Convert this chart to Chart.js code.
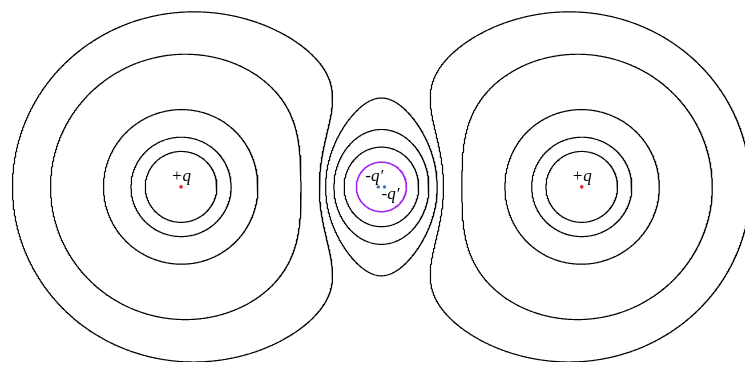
<!DOCTYPE html>
<html>
<head>
<meta charset="utf-8">
<script src="https://cdn.jsdelivr.net/npm/chart.js@4.4.1/dist/chart.umd.min.js"></script>
<style>
  html, body { margin: 0; padding: 0; background: #ffffff; }
  canvas { display: block; }
</style>
</head>
<body>
<canvas id="field" width="749" height="366"></canvas>
<script>
// Point charges: two +q charges and their images -q' inside the grounded sphere
const chargeX = [-2, 2, -0.03125, 0.03125];
const chargeY = [0, 0, 0, 0];
const chargeQ = [1, 1, -0.125, -0.125];
const chargeLabels = ['+q', '+q', '-q\u2032', '-q\u2032'];

// Equipotentials: closed loops around the sphere, loops around the charges,
// and the sphere surface itself (purple)
const sphereLoopLevels = [0.36, 0.53, 0.634];
const chargeLoopLevels = [0.702, 0.88, 1.41, 2.12, 2.92];
const surfaceLevels = [0];

// Plot window
const xRange = [-3.768, 3.630];
const yRange = [-1.768, 1.847];

function potential(px, py) {
  let v = 0;
  for (let k = 0; k < chargeQ.length; k++) {
    const dx = px - chargeX[k], dy = py - chargeY[k];
    const r = Math.max(Math.sqrt(dx * dx + dy * dy), 1e-9);
    v += chargeQ[k] / r;
  }
  return v;
}

// Sample the potential on a regular grid
const h = 0.008;
const gx0 = xRange[0] - 0.1, gy0 = yRange[0] - 0.1;
const nx = Math.ceil((xRange[1] - xRange[0] + 0.2) / h) + 1;
const ny = Math.ceil((yRange[1] - yRange[0] + 0.2) / h) + 1;
const grid = new Float64Array(nx * ny);
for (let j = 0; j < ny; j++) {
  for (let i = 0; i < nx; i++) {
    grid[j * nx + i] = potential(gx0 + i * h, gy0 + j * h);
  }
}

// Marching squares, segments chained into polylines
function contourLines(level) {
  const pts = new Map();
  const nbr = new Map();
  const gxv = i => gx0 + i * h, gyv = j => gy0 + j * h;
  function setPt(id, x1, y1, v1, x2, y2, v2) {
    if (!pts.has(id)) {
      const t = (level - v1) / (v2 - v1);
      pts.set(id, { x: x1 + t * (x2 - x1), y: y1 + t * (y2 - y1) });
    }
  }
  function link(a, b) {
    if (!nbr.has(a)) nbr.set(a, []);
    if (!nbr.has(b)) nbr.set(b, []);
    nbr.get(a).push(b);
    nbr.get(b).push(a);
  }
  for (let j = 0; j < ny - 1; j++) {
    for (let i = 0; i < nx - 1; i++) {
      const va = grid[j * nx + i], vb = grid[j * nx + i + 1];
      const vc = grid[(j + 1) * nx + i + 1], vd = grid[(j + 1) * nx + i];
      const sa = va >= level, sb = vb >= level, sc = vc >= level, sd = vd >= level;
      const code = (sa ? 1 : 0) | (sb ? 2 : 0) | (sc ? 4 : 0) | (sd ? 8 : 0);
      if (code === 0 || code === 15) continue;
      const x0 = gxv(i), x1 = gxv(i + 1), y0 = gyv(j), y1 = gyv(j + 1);
      const B = 2 * (j * nx + i);
      const R = 2 * (j * nx + i + 1) + 1;
      const T = 2 * ((j + 1) * nx + i);
      const L = 2 * (j * nx + i) + 1;
      const cross = [];
      if (sa !== sb) { setPt(B, x0, y0, va, x1, y0, vb); cross.push(B); }
      if (sb !== sc) { setPt(R, x1, y0, vb, x1, y1, vc); cross.push(R); }
      if (sd !== sc) { setPt(T, x0, y1, vd, x1, y1, vc); cross.push(T); }
      if (sa !== sd) { setPt(L, x0, y0, va, x0, y1, vd); cross.push(L); }
      if (cross.length === 2) {
        link(cross[0], cross[1]);
      } else if (cross.length === 4) {
        const centre = (va + vb + vc + vd) / 4 >= level;
        if (centre === sa) { link(B, R); link(T, L); }
        else { link(B, L); link(T, R); }
      }
    }
  }
  const visited = new Set();
  const lines = [];
  function trace(start) {
    const line = [pts.get(start)];
    visited.add(start);
    let cur = start, closed = false;
    for (;;) {
      const next = nbr.get(cur).find(e => !visited.has(e));
      if (next === undefined) {
        if (line.length > 2 && nbr.get(cur).includes(start)) { line.push(pts.get(start)); closed = true; }
        break;
      }
      visited.add(next);
      line.push(pts.get(next));
      cur = next;
    }
    lines.push({ points: line, closed });
  }
  for (const [id, list] of nbr) if (list.length === 1 && !visited.has(id)) trace(id);
  for (const id of nbr.keys()) if (!visited.has(id)) trace(id);
  return lines;
}

// A loop belongs to the sphere group when it is closed and stays near the sphere
function aroundSphere(line) {
  return line.closed && line.points.every(p => Math.abs(p.x) < 1.5 && Math.abs(p.y) < 1.5);
}

function lineDataset(points, color, width) {
  return {
    data: points, showLine: true, pointRadius: 0, borderColor: color,
    borderWidth: width, tension: 0, fill: false, borderJoinStyle: 'round'
  };
}

const datasets = [];
sphereLoopLevels.forEach(level => {
  contourLines(level).filter(aroundSphere)
    .forEach(line => datasets.push(lineDataset(line.points, '#000000', 1.2)));
});
chargeLoopLevels.forEach(level => {
  contourLines(level)
    .forEach(line => datasets.push(lineDataset(line.points, '#000000', 1.2)));
});
surfaceLevels.forEach(level => {
  contourLines(level).filter(aroundSphere)
    .forEach(line => datasets.push(lineDataset(line.points, '#a020f0', 1.5)));
});

// Charge markers
datasets.push({
  data: chargeX.map((x, k) => ({ x, y: chargeY[k] })).filter((p, k) => chargeQ[k] > 0),
  showLine: false, pointRadius: 1.8, pointBorderWidth: 0, pointBackgroundColor: '#e8202a'
});
datasets.push({
  data: chargeX.map((x, k) => ({ x, y: chargeY[k] })).filter((p, k) => chargeQ[k] < 0),
  showLine: false, pointRadius: 1.7, pointBorderWidth: 0, pointBackgroundColor: '#3b6db5'
});

const chargeLabelPlugin = {
  id: 'chargeLabels',
  afterDatasetsDraw(chart) {
    const { ctx, scales } = chart;
    ctx.save();
    ctx.font = 'italic 17px "Liberation Serif", "DejaVu Serif", serif';
    ctx.fillStyle = '#000000';
    ctx.textAlign = 'center';
    ctx.textBaseline = 'middle';
    let imageCount = 0;
    chargeX.forEach((x, k) => {
      const px = scales.x.getPixelForValue(x);
      const py = scales.y.getPixelForValue(chargeY[k]);
      let dx = 0, dy = -10;
      if (chargeQ[k] < 0) {
        if (imageCount === 0) { dx = -4; dy = -10; } else { dx = 6; dy = 8; }
        imageCount++;
      }
      ctx.fillText(chargeLabels[k], px + dx, py + dy);
    });
    ctx.restore();
  }
};

new Chart(document.getElementById('field'), {
  type: 'scatter',
  data: { datasets },
  options: {
    responsive: false,
    maintainAspectRatio: false,
    animation: false,
    events: [],
    layout: { padding: 0 },
    plugins: { legend: { display: false }, tooltip: { enabled: false } },
    scales: {
      x: { type: 'linear', min: xRange[0], max: xRange[1], display: false },
      y: { type: 'linear', min: yRange[0], max: yRange[1], display: false }
    }
  },
  plugins: [chargeLabelPlugin]
});
</script>
</body>
</html>
